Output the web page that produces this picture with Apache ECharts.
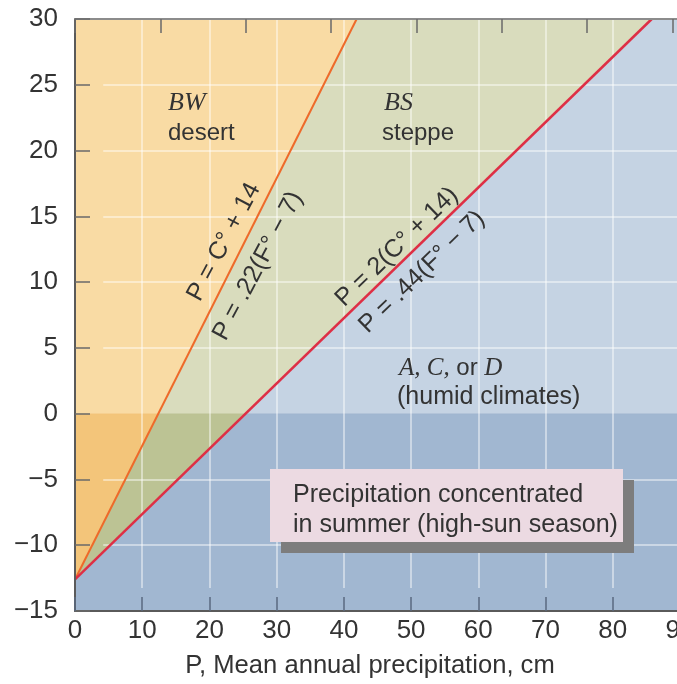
<!DOCTYPE html>
<html><head><meta charset="utf-8">
<script src="https://cdn.jsdelivr.net/npm/echarts@6/dist/echarts.min.js"></script>
<style>html,body{margin:0;padding:0;background:#fff}#c{width:677px;height:684px}</style>
</head><body><div id="c"></div>
<script>
// Boundary lines: P (cm) on x, temperature C (°C) on y
const aridBoundaryP = [0, 41.9];
const aridBoundaryC = [-12.6, 30];
const humidBoundaryP = [0, 85.8];
const humidBoundaryC = [-12.6, 30];

// Region polygons [P, C]
const desertWarm = [[0, 0], [12.4, 0], [41.9, 30], [0, 30]];
const desertCold = [[0, -12.6], [12.4, 0], [0, 0]];
const steppeWarm = [[12.4, 0], [25.4, 0], [85.8, 30], [41.9, 30]];
const steppeCold = [[0, -12.6], [25.4, 0], [12.4, 0]];
const humidWarm = [[25.4, 0], [90, 0], [90, 30], [85.8, 30]];
const humidCold = [[0, -15], [90, -15], [90, 0], [25.4, 0], [0, -12.6]];

// Grid / tick values
const gridLinesP = [10, 20, 30, 40, 50, 60, 70, 80];
const gridLinesC = [-10, -5, 5, 10, 15, 20, 25];

const regions = [
  { pts: desertWarm, color: '#f9dba4' },
  { pts: desertCold, color: '#f3c57a' },
  { pts: steppeWarm, color: '#d9dcbd' },
  { pts: steppeCold, color: '#bcc394' },
  { pts: humidWarm, color: '#c5d3e3' },
  { pts: humidCold, color: '#a1b7d1' }
];

const SANS = "'Liberation Sans', Arial, sans-serif";
const SERIF = "'Liberation Serif', 'Times New Roman', serif";
const TXT = '#333';
const minus = v => String(v).replace('-', '\u2212');

const markLineData = [];
gridLinesP.forEach(p => markLineData.push([{ coord: [p, -13.25] }, { coord: [p, 30] }]));
gridLinesC.forEach(c => markLineData.push([{ coord: [4.2, c] }, { coord: [90, c] }]));

const chart = echarts.init(document.getElementById('c'), null, { renderer: 'canvas' });
const deg = a => a * Math.PI / 180;
chart.setOption({
  animation: false,
  grid: { left: 75, top: 19, width: 605, height: 592, containLabel: false, outerBoundsMode: 'none' },
  xAxis: [
    {
      type: 'value', position: 'bottom', min: 0, max: 90, interval: 10, z: 20,
      axisLine: { show: true, onZero: false, lineStyle: { color: '#5a5a5a', width: 2 } },
      axisTick: { show: true, inside: true, length: 14, lineStyle: { color: '#5a6a80', width: 1.5 } },
      axisLabel: { show: true, margin: 7, color: TXT, fontSize: 26, fontFamily: SANS, formatter: minus },
      splitLine: { show: false }
    },
    {
      type: 'value', position: 'top', min: 0, max: 90 / 2.54, interval: 5, z: 20,
      axisLine: { show: true, onZero: false, lineStyle: { color: '#8c8c8c', width: 2 } },
      axisTick: { show: true, inside: true, length: 14, lineStyle: { color: '#6a6a6a', width: 1.5 } },
      axisLabel: { show: false },
      splitLine: { show: false }
    }
  ],
  yAxis: {
    type: 'value', min: -15, max: 30, interval: 5, z: 20,
    axisLine: { show: true, onZero: false, lineStyle: { color: '#5a5a5a', width: 2 } },
    axisTick: { show: true, inside: true, length: 15, lineStyle: { color: '#6a6a6a', width: 1.5 } },
    axisLabel: { show: true, margin: 17, color: TXT, fontSize: 26, fontFamily: SANS, formatter: minus },
    splitLine: { show: false }
  },
  series: [
    {
      type: 'custom', name: 'regions', clip: true, z: 1, silent: true,
      data: regions.map(r => r.pts[0]),
      renderItem: (params, api) => {
        const r = regions[params.dataIndex];
        return {
          type: 'polygon',
          shape: { points: r.pts.map(p => api.coord(p)) },
          style: { fill: r.color, stroke: r.color, lineWidth: 0.5 }
        };
      }
    },
    {
      type: 'line', name: 'grid', data: [], z: 3, silent: true,
      markLine: {
        silent: true, symbol: 'none', animation: false,
        label: { show: false },
        lineStyle: { color: 'rgba(255,255,255,0.6)', width: 1.5, type: 'solid' },
        emphasis: { disabled: true },
        data: markLineData
      }
    },
    {
      type: 'line', name: 'P = C + 14', z: 5, silent: true, symbol: 'none',
      data: aridBoundaryP.map((p, i) => [p, aridBoundaryC[i]]),
      lineStyle: { color: '#ee6a2a', width: 2 }
    },
    {
      type: 'line', name: 'P = 2(C + 14)', z: 5, silent: true, symbol: 'none',
      data: humidBoundaryP.map((p, i) => [p, humidBoundaryC[i]]),
      lineStyle: { color: '#de2f45', width: 2.5 }
    }
  ],
  graphic: [
    { type: 'rect', z: 10, shape: { x: 281, y: 480, width: 353, height: 73 }, style: { fill: '#7d7d7d' } },
    { type: 'rect', z: 11, shape: { x: 270, y: 469, width: 353, height: 73 }, style: { fill: '#ecdae2' } },
    { type: 'text', z: 12, x: 293, y: 495, style: { text: 'Precipitation concentrated', fill: TXT, fontSize: 25.1, fontFamily: SANS, align: 'left', verticalAlign: 'middle' } },
    { type: 'text', z: 12, x: 293, y: 525, style: { text: 'in summer (high-sun season)', fill: TXT, fontSize: 25.1, fontFamily: SANS, align: 'left', verticalAlign: 'middle' } },

    { type: 'text', z: 12, x: 168, y: 103, style: { text: 'BW', fill: TXT, fontSize: 26, fontStyle: 'italic', fontFamily: SERIF, align: 'left', verticalAlign: 'middle' } },
    { type: 'text', z: 12, x: 168, y: 133, style: { text: 'desert', fill: TXT, fontSize: 24, fontFamily: SANS, align: 'left', verticalAlign: 'middle' } },
    { type: 'text', z: 12, x: 384, y: 103, style: { text: 'BS', fill: TXT, fontSize: 26, fontStyle: 'italic', fontFamily: SERIF, align: 'left', verticalAlign: 'middle' } },
    { type: 'text', z: 12, x: 382, y: 133, style: { text: 'steppe', fill: TXT, fontSize: 24, fontFamily: SANS, align: 'left', verticalAlign: 'middle' } },
    { type: 'text', z: 12, x: 399, y: 368, style: { text: '{i|A, C,} or {i|D}', fill: TXT, fontSize: 24, fontFamily: SANS, align: 'left', verticalAlign: 'middle', rich: { i: { fontSize: 25, fontStyle: 'italic', fontFamily: SERIF, fill: TXT } } } },
    { type: 'text', z: 12, x: 397, y: 397, style: { text: '(humid climates)', fill: TXT, fontSize: 25, fontFamily: SANS, align: 'left', verticalAlign: 'middle' } },

    { type: 'text', z: 12, x: 224, y: 242, rotation: deg(62), style: { text: 'P = C\u00b0 + 14', fill: TXT, fontSize: 25, fontFamily: SANS, align: 'center', verticalAlign: 'middle' } },
    { type: 'text', z: 12, x: 258, y: 266, rotation: deg(62), style: { text: 'P = .22(F\u00b0 \u2212 7)', fill: TXT, fontSize: 25, fontFamily: SANS, align: 'center', verticalAlign: 'middle' } },
    { type: 'text', z: 12, x: 397, y: 247, rotation: deg(44), style: { text: 'P = 2(C\u00b0 + 14)', fill: TXT, fontSize: 25, fontFamily: SANS, align: 'center', verticalAlign: 'middle' } },
    { type: 'text', z: 12, x: 422, y: 272, rotation: deg(44), style: { text: 'P = .44(F\u00b0 \u2212 7)', fill: TXT, fontSize: 25, fontFamily: SANS, align: 'center', verticalAlign: 'middle' } },

    { type: 'text', z: 12, x: 370, y: 666, style: { text: 'P, Mean annual precipitation, cm', fill: TXT, fontSize: 25.6, fontFamily: SANS, align: 'center', verticalAlign: 'middle' } }
  ]
});
</script>
</body></html>
